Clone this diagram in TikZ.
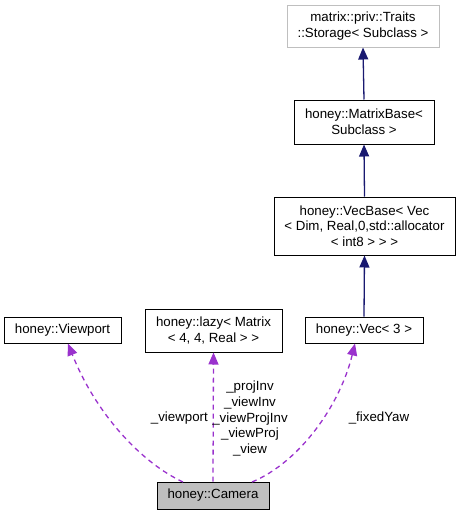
\documentclass[tikz,border=0pt]{standalone}
\usepackage{fontspec}
\setmainfont{Liberation Sans}
\usetikzlibrary{arrows.meta}
\definecolor{edgeblue}{HTML}{191970}
\definecolor{edgepurple}{HTML}{9A32CD}
\definecolor{boxgray}{HTML}{BFBFBF}
\begin{document}
\begin{tikzpicture}[x=1pt,y=-1pt,
  every node/.style={font=\fontsize{13.3}{15.6}\selectfont},
  cls/.style={draw=black,line width=1pt,fill=white,align=center,inner sep=0pt},
  inherit/.style={draw=edgeblue,line width=1.3pt,-{Triangle[length=12pt,width=10pt]}},
  useedge/.style={draw=edgepurple,line width=1.3pt,dash pattern=on 5pt off 4pt,-{Triangle[length=12pt,width=10pt]}},
  lbl/.style={align=center,inner sep=0pt}]
\useasboundingbox (0,0) rectangle (460,517);
\node[cls,draw=boxgray,minimum width=152pt,minimum height=42pt] (traits) at (363,26) {matrix::priv::Traits\\::Storage< Subclass >};
\node[cls,minimum width=140pt,minimum height=44pt] (mbase) at (364,122) {honey::MatrixBase<\\Subclass >};
\node[cls,minimum width=181pt,minimum height=58pt] (vbase) at (364.5,226) {honey::VecBase< Vec\\< Dim, Real,0,std::allocator\\< int8 > > >};
\node[cls,minimum width=117pt,minimum height=26pt] (viewport) at (62.5,330) {honey::Viewport};
\node[cls,minimum width=137pt,minimum height=43pt] (lazy) at (213.5,330.5) {honey::lazy< Matrix\\< 4, 4, Real > >};
\node[cls,minimum width=118pt,minimum height=26pt] (vec3) at (364,330) {honey::Vec< 3 >};
\node[cls,fill=boxgray,minimum width=112pt,minimum height=27pt] (camera) at (213,495.5) {honey::Camera};
\draw[inherit] (mbase.north) -- (traits.south);
\draw[inherit] (vbase.north) -- (mbase.south);
\draw[inherit] (vec3.north) -- (vbase.south);
\coordinate (c1) at (183,482);
\coordinate (c3) at (252,482);
\draw[useedge] (c1) .. controls (140,462) and (95,412) .. (viewport.south -| 68,0);
\draw[useedge] (camera.north) -- (lazy.south);
\draw[useedge] (c3) .. controls (300,462) and (340,405) .. (vec3.south -| 355,0);
\node[lbl,anchor=east] (lv) at (208,418) {\_viewport};
\node[lbl] (lp) at (250,418.5) {\_projInv\\\_viewInv\\\_viewProjInv\\\_viewProj\\\_view};
\node[lbl] (lf) at (379,418) {\_fixedYaw};
\end{tikzpicture}
\end{document}
